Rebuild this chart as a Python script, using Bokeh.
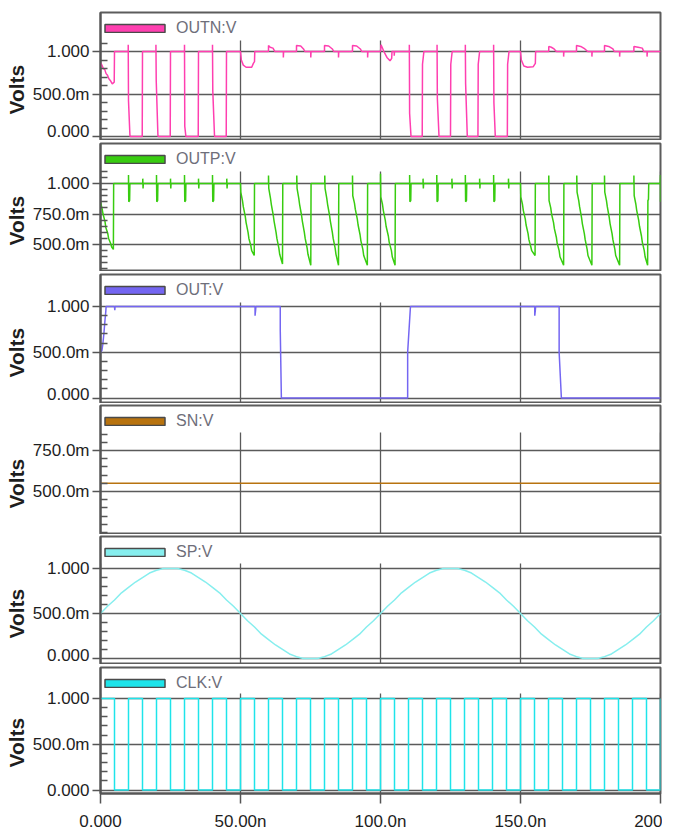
from bokeh.plotting import figure
from bokeh.layouts import column
from bokeh.models import Range1d, FixedTicker, Legend, LegendItem, Title
from bokeh.embed import file_html
from bokeh.resources import INLINE

# ---------------- data ----------------
x_ticks = [0, 50, 100, 150, 200]
x_labels = ["0.000", "50.00n", "100.0n", "150.0n", "200"]

outn_pts = [
    (0.0, 0.87), (0.5, 0.84), (1.0, 0.80), (1.5, 0.79), (2.0, 0.74), (2.5, 0.72), (3.0, 0.68),
    (3.5, 0.66), (4.2, 0.62), (4.9, 0.64), (5.0, 1.00),
    (9.9, 1.00), (9.9, 1.08), (10.0, 0.42), (10.5, 0.02), (10.6, 0.00), (14.9, 0.00), (15.0, 1.00),
    (19.8, 1.00), (19.8, 1.08), (19.9, 0.66), (20.5, 0.02), (20.6, 0.00), (24.9, 0.00), (25.0, 1.00),
    (30.0, 1.00), (30.0, 1.08), (30.1, 0.12), (30.5, 0.00), (34.9, 0.00), (35.0, 1.00),
    (40.0, 1.00), (40.0, 1.08), (40.1, 0.54), (40.7, 0.02), (40.8, 0.00), (44.9, 0.00), (45.0, 1.00),
    (50.0, 1.00), (50.3, 0.90), (51.0, 0.84), (52.0, 0.815), (54.0, 0.815), (54.6, 0.86), (55.0, 0.88), (55.1, 1.00),
    (60.0, 1.00), (60.0, 1.07), (60.6, 1.05), (61.6, 1.04), (62.3, 1.00), (65.3, 1.00), (65.3, 0.93), (65.4, 1.00),
    (70.0, 1.00), (70.0, 1.07), (71.5, 1.065), (72.5, 1.03), (73.0, 1.00), (75.1, 1.00), (75.1, 0.93), (75.2, 1.00),
    (80.0, 1.00), (80.0, 1.07), (81.5, 1.065), (82.8, 1.03), (83.3, 1.00), (85.0, 1.00), (85.0, 0.93), (85.1, 1.00),
    (90.0, 1.00), (90.0, 1.07), (91.5, 1.065), (92.8, 1.03), (93.3, 1.00), (95.4, 1.00), (95.4, 0.93), (95.5, 1.00),
    (100.0, 1.00), (100.2, 1.08), (101.2, 1.00), (102.3, 0.93), (103.4, 0.89), (104.0, 0.92), (104.1, 1.00),
    (104.9, 1.00), (104.9, 0.95), (105.0, 1.00),
    (110.3, 1.00), (110.3, 1.08), (110.4, 0.27), (110.9, 0.00), (114.9, 0.00), (115.0, 0.85), (115.5, 1.00),
    (120.2, 1.00), (120.2, 1.08), (120.3, 0.45), (120.9, 0.00), (125.0, 0.00), (125.1, 0.85), (125.6, 1.00),
    (130.3, 1.00), (130.3, 1.08), (130.4, 0.62), (131.0, 0.00), (134.8, 0.00), (134.9, 0.85), (135.4, 1.00),
    (140.4, 1.00), (140.4, 1.08), (140.5, 0.40), (141.0, 0.00), (145.3, 0.00), (145.4, 0.85), (145.9, 1.00),
    (150.0, 1.00), (150.3, 0.90), (151.2, 0.83), (152.5, 0.815), (154.5, 0.82), (155.3, 0.86), (155.4, 1.00),
    (160.1, 1.00), (160.1, 1.06), (161.0, 1.05), (162.0, 1.03), (162.8, 1.00), (165.4, 1.00), (165.4, 0.94), (165.5, 1.00),
    (170.0, 1.00), (170.0, 1.07), (171.5, 1.06), (173.0, 1.03), (174.0, 1.00), (175.5, 1.00), (175.5, 0.94), (175.6, 1.00),
    (180.0, 1.00), (180.0, 1.07), (181.5, 1.06), (183.0, 1.03), (183.5, 1.00), (185.4, 1.00), (185.4, 0.94), (185.5, 1.00),
    (190.5, 1.00), (190.5, 1.06), (192.0, 1.05), (193.5, 1.04), (194.0, 1.00), (195.2, 1.00), (195.2, 0.94), (195.3, 1.00),
    (200.0, 1.00),
]

outp_pts = [
    (0.0, 0.85), (0.6, 0.79), (0.9, 0.75), (1.6, 0.69), (1.9, 0.64), (2.6, 0.59), (2.9, 0.55),
    (3.6, 0.51), (4.0, 0.48), (4.6, 0.46), (4.7, 1.00),
    (10.0, 1.00), (10.0, 1.07), (10.1, 0.85), (10.4, 0.86), (10.5, 1.00),
    (15.1, 1.00), (15.1, 1.04), (15.2, 0.96), (15.3, 1.00),
    (20.0, 1.00), (20.0, 1.07), (20.1, 0.85), (20.4, 0.86), (20.5, 1.00),
    (25.0, 1.00), (25.0, 1.04), (25.1, 0.96), (25.2, 1.00),
    (30.0, 1.00), (30.0, 1.07), (30.1, 0.85), (30.4, 0.86), (30.5, 1.00),
    (35.0, 1.00), (35.0, 1.04), (35.1, 0.96), (35.2, 1.00),
    (40.0, 1.00), (40.0, 1.07), (40.1, 0.85), (40.4, 0.86), (40.5, 1.00),
    (45.1, 1.00), (45.1, 1.04), (45.2, 0.96), (45.3, 1.00),
    (50.0, 1.00), (50.1, 0.93), (50.7, 0.86), (51.0, 0.81), (51.7, 0.73), (52.0, 0.68), (52.7, 0.60),
    (53.0, 0.55), (53.7, 0.49), (54.0, 0.45), (54.9, 0.41), (55.0, 1.00),
    (60.0, 1.00), (60.0, 1.065), (60.1, 0.96), (60.7, 0.88), (61.0, 0.83), (61.7, 0.74), (62.0, 0.69),
    (62.7, 0.60), (63.0, 0.55), (63.7, 0.47), (64.0, 0.42), (65.0, 0.34), (65.1, 1.00),
    (70.1, 1.00), (70.1, 1.065), (70.2, 0.96), (70.8, 0.88), (71.1, 0.83), (71.8, 0.74), (72.1, 0.69),
    (72.8, 0.60), (73.1, 0.55), (73.8, 0.47), (74.1, 0.42), (75.1, 0.33), (75.2, 1.00),
    (80.1, 1.00), (80.1, 1.065), (80.2, 0.96), (80.8, 0.88), (81.1, 0.83), (81.8, 0.74), (82.1, 0.69),
    (82.8, 0.60), (83.1, 0.55), (83.8, 0.47), (84.1, 0.42), (85.0, 0.33), (85.1, 1.00),
    (90.0, 1.00), (90.0, 1.065), (90.1, 0.90), (90.7, 0.84), (91.0, 0.79), (91.7, 0.71), (92.0, 0.66),
    (92.7, 0.58), (93.0, 0.53), (93.7, 0.46), (94.0, 0.41), (95.3, 0.33), (95.4, 1.00),
    (100.0, 1.00), (100.0, 1.08), (100.1, 0.89), (100.7, 0.83), (101.0, 0.78), (101.7, 0.70), (102.0, 0.65),
    (102.8, 0.57), (103.1, 0.52), (103.9, 0.45), (104.2, 0.40), (105.2, 0.33), (105.3, 1.00),
    (110.4, 1.00), (110.4, 1.07), (110.5, 0.85), (110.8, 0.86), (110.9, 1.00),
    (115.2, 1.00), (115.2, 1.04), (115.3, 0.96), (115.4, 1.00),
    (120.1, 1.00), (120.1, 1.07), (120.2, 0.85), (120.5, 0.86), (120.6, 1.00),
    (125.5, 1.00), (125.5, 1.04), (125.6, 0.96), (125.7, 1.00),
    (130.3, 1.00), (130.3, 1.07), (130.4, 0.85), (130.7, 0.86), (130.8, 1.00),
    (135.4, 1.00), (135.4, 1.04), (135.5, 0.96), (135.6, 1.00),
    (140.4, 1.00), (140.4, 1.07), (140.5, 0.85), (140.8, 0.86), (140.9, 1.00),
    (145.7, 1.00), (145.7, 1.04), (145.8, 0.96), (145.9, 1.00),
    (150.0, 1.00), (150.1, 0.89), (150.7, 0.83), (151.0, 0.78), (151.7, 0.71), (152.0, 0.66), (152.7, 0.59),
    (153.0, 0.54), (153.7, 0.48), (154.0, 0.45), (155.2, 0.41), (155.3, 1.00),
    (160.1, 1.00), (160.1, 1.065), (160.2, 0.86), (160.8, 0.80), (161.1, 0.75), (161.8, 0.68), (162.1, 0.63),
    (162.8, 0.56), (163.1, 0.51), (163.8, 0.45), (164.1, 0.40), (165.4, 0.33), (165.5, 1.00),
    (170.1, 1.00), (170.1, 1.065), (170.2, 0.93), (170.8, 0.86), (171.1, 0.81), (171.8, 0.72), (172.1, 0.67),
    (172.8, 0.59), (173.1, 0.54), (173.8, 0.46), (174.1, 0.41), (175.5, 0.33), (175.6, 1.00),
    (180.0, 1.00), (180.0, 1.065), (180.1, 0.93), (180.7, 0.86), (181.0, 0.81), (181.7, 0.72), (182.0, 0.67),
    (182.7, 0.59), (183.0, 0.54), (183.7, 0.46), (184.0, 0.41), (185.4, 0.33), (185.5, 1.00),
    (190.5, 1.00), (190.5, 1.065), (190.6, 0.90), (191.2, 0.83), (191.5, 0.78), (192.2, 0.70), (192.5, 0.65),
    (193.2, 0.57), (193.5, 0.52), (194.2, 0.45), (194.5, 0.40), (195.4, 0.33), (195.5, 0.86), (195.7, 0.87),
    (195.8, 1.00), (199.9, 1.00), (200.0, 1.07), (200.0, 0.85),
]

out_pts = [
    (0.0, 0.50), (0.5, 0.52), (0.8, 0.58), (1.2, 0.70), (1.6, 0.85), (1.9, 0.95), (2.0, 1.00),
    (5.0, 1.00), (5.1, 0.96), (5.2, 1.00),
    (55.2, 1.00), (55.2, 0.90), (55.4, 0.96), (55.5, 1.00), (64.2, 1.00), (64.2, 0.74), (64.6, 0.00),
    (109.7, 0.00), (109.7, 0.50), (110.7, 1.00),
    (155.1, 1.00), (155.1, 0.90), (155.3, 0.96), (155.4, 1.00), (163.8, 1.00), (163.8, 0.50), (164.6, 0.00),
    (200.0, 0.00),
]

sn_pts = [(0.0, 0.55), (200.0, 0.55)]

sp_t = [0, 2.5, 5, 7.5, 10, 12.5, 15, 17.5, 20, 22.5, 25, 27.5, 30, 32.5, 35, 37.5, 40, 42.5, 45, 47.5,
        50, 52.5, 55, 57.5, 60, 62.5, 65, 67.5, 70, 72.5, 75, 77.5, 80, 82.5, 85, 87.5, 90, 92.5, 95, 97.5,
        100, 102.5, 105, 107.5, 110, 112.5, 115, 117.5, 120, 122.5, 125, 127.5, 130, 132.5, 135, 137.5,
        140, 142.5, 145, 147.5, 150, 152.5, 155, 157.5, 160, 162.5, 165, 167.5, 170, 172.5, 175, 177.5,
        180, 182.5, 185, 187.5, 190, 192.5, 195, 197.5, 200]
sp_v = [0.50, 0.58, 0.65, 0.73, 0.79, 0.85, 0.90, 0.95, 0.98, 1.00, 1.00, 1.00, 0.98, 0.95, 0.90, 0.85,
        0.79, 0.73, 0.65, 0.58, 0.50, 0.42, 0.35, 0.27, 0.21, 0.15, 0.10, 0.05, 0.02, 0.00, 0.00, 0.00,
        0.02, 0.05, 0.10, 0.15, 0.21, 0.27, 0.35, 0.42,
        0.50, 0.58, 0.65, 0.73, 0.79, 0.85, 0.90, 0.95, 0.98, 1.00, 1.00, 1.00, 0.98, 0.95, 0.90, 0.85,
        0.79, 0.73, 0.65, 0.58, 0.50, 0.42, 0.35, 0.27, 0.21, 0.15, 0.10, 0.05, 0.02, 0.00, 0.00, 0.00,
        0.02, 0.05, 0.10, 0.15, 0.21, 0.27, 0.35, 0.42, 0.50]

clk_t = [0, 5, 10, 15, 20, 25, 30, 35, 40, 45, 50, 55, 60, 65, 70, 75, 80, 85, 90, 95, 100,
         105, 110, 115, 120, 125, 130, 135, 140, 145, 150, 155, 160, 165, 170, 175, 180, 185, 190, 195, 200]
clk_v = [1, 0, 1, 0, 1, 0, 1, 0, 1, 0, 1, 0, 1, 0, 1, 0, 1, 0, 1, 0, 1,
         0, 1, 0, 1, 0, 1, 0, 1, 0, 1, 0, 1, 0, 1, 0, 1, 0, 1, 0, 1]

ticks_01 = [0.0, 0.5, 1.0]
labels_01 = ["0.000", "500.0m", "1.000"]
ticks_outp = [0.5, 0.75, 1.0]
labels_outp = ["500.0m", "750.0m", "1.000"]
ticks_sn = [0.5, 0.75]
labels_sn = ["500.0m", "750.0m"]
minor_01 = [0.1, 0.2, 0.3, 0.4, 0.6, 0.7, 0.8, 0.9]
minor_outn = [0.1, 0.2, 0.3, 0.4, 0.6, 0.7, 0.8, 0.9, 1.1]
minor_outp = [0.3, 0.35, 0.4, 0.45, 0.55, 0.6, 0.65, 0.7, 0.8, 0.85, 0.9, 0.95, 1.05, 1.1]
minor_sn = [0.25, 0.3, 0.35, 0.4, 0.45, 0.55, 0.6, 0.65, 0.7, 0.8, 0.85]

# ---------------- layout / style ----------------
GRID = "#5a5a5a"
FONT = "Liberation Sans"

panels = [
    dict(name="OUTN:V", color="#ff3fb0", t=[p[0] for p in outn_pts], v=[p[1] for p in outn_pts],
         ticks=ticks_01, labels=labels_01, minor=minor_outn, lo=-0.047, hi=1.459, top=1.129, fh=128, bt=12),
    dict(name="OUTP:V", color="#38cc10", t=[p[0] for p in outp_pts], v=[p[1] for p in outp_pts],
         ticks=ticks_outp, labels=labels_outp, minor=minor_outp, lo=0.279, hi=1.328, top=1.098, fh=128, bt=3),
    dict(name="OUT:V", color="#7466f2", t=[p[0] for p in out_pts], v=[p[1] for p in out_pts],
         ticks=ticks_01, labels=labels_01, minor=minor_01, lo=-0.060, hi=1.350, top=1.044, fh=129, bt=3),
    dict(name="SN:V", color="#b8730f", t=[p[0] for p in sn_pts], v=[p[1] for p in sn_pts],
         ticks=ticks_sn, labels=labels_sn, minor=minor_sn, lo=0.238, hi=1.024, top=0.86, fh=129, bt=2),
    dict(name="SP:V", color="#86eeee", t=sp_t, v=sp_v,
         ticks=ticks_01, labels=labels_01, minor=minor_01, lo=-0.067, hi=1.356, top=1.056, fh=128, bt=2),
    dict(name="CLK:V", color="#1ee4ea", t=clk_t, v=clk_v, step=True,
         ticks=ticks_01, labels=labels_01, minor=minor_01, lo=-0.038, hi=1.339, top=1.055, fh=126, bt=3),
]

figs = []
for i, cfg in enumerate(panels):
    last = i == len(panels) - 1
    p = figure(frame_width=560, frame_height=cfg["fh"], output_backend="svg", toolbar_location=None,
               x_range=Range1d(0, 200), y_range=Range1d(cfg["lo"], cfg["hi"]),
               x_axis_location="below" if last else None,
               min_border_left=94, min_border_right=2, min_border_top=cfg["bt"],
               min_border_bottom=38 if last else 0)
    p.background_fill_color = "white"
    p.border_fill_color = "white"
    p.outline_line_color = "#5c5c5c"
    p.outline_line_width = 2

    # grid
    p.xgrid.visible = False
    yt = FixedTicker(ticks=cfg["ticks"], minor_ticks=cfg["minor"])
    p.yaxis.ticker = yt
    p.ygrid.ticker = yt
    p.ygrid.grid_line_color = GRID
    p.ygrid.grid_line_width = 1.3
    p.segment(x0=x_ticks, x1=x_ticks, y0=[cfg["lo"]] * len(x_ticks), y1=[cfg["top"]] * len(x_ticks),
              line_color=GRID, line_width=1.3)

    # y axis
    ya = p.yaxis[0]
    ya.major_label_overrides = dict(zip(cfg["ticks"], cfg["labels"]))
    ya.major_label_text_font = FONT
    ya.major_label_text_font_size = "17px"
    ya.major_label_text_color = "#1e1e1e"
    ya.major_label_standoff = 3
    ya.axis_line_color = "#555555"
    ya.axis_line_width = 2
    ya.major_tick_out = 8
    ya.major_tick_in = 0
    ya.major_tick_line_color = "#555555"
    ya.major_tick_line_width = 1.5
    ya.minor_tick_in = 7
    ya.minor_tick_out = 0
    ya.minor_tick_line_color = "#555555"
    ya.minor_tick_line_width = 1.5

    p.add_layout(Title(text="Volts", align="left", offset=26, standoff=4, text_font=FONT,
                       text_font_size="21px", text_font_style="bold", text_color="#1e1e1e"), "left")

    if last:
        xa = p.xaxis[0]
        xa.ticker = FixedTicker(ticks=x_ticks, minor_ticks=[])
        xa.major_label_overrides = dict(zip(x_ticks, x_labels))
        xa.major_label_text_font = FONT
        xa.major_label_text_font_size = "17px"
        xa.major_label_text_color = "#1e1e1e"
        xa.major_label_standoff = 8
        xa.axis_line_color = "#555555"
        xa.axis_line_width = 2
        xa.major_tick_out = 10
        xa.major_tick_in = 0
        xa.major_tick_line_color = "#555555"
        xa.major_tick_line_width = 1.5
        xa.minor_tick_line_color = None

    # data
    if cfg.get("step"):
        p.step(cfg["t"], cfg["v"], mode="after", line_color=cfg["color"], line_width=1.5)
    else:
        p.line(cfg["t"], cfg["v"], line_color=cfg["color"], line_width=1.5)

    # legend swatch (hidden renderer, only its legend glyph is shown)
    sw = p.quad(left=cfg["t"][:1], right=cfg["t"][:1], bottom=cfg["v"][:1], top=cfg["v"][:1],
                fill_color=cfg["color"], line_color="#4a4a4a", line_width=1.5, visible=False)
    leg = Legend(items=[LegendItem(label=cfg["name"], renderers=[sw])],
                 location=(-3, cfg["fh"] - 26), margin=0, padding=0,
                 glyph_width=75, glyph_height=10, label_standoff=4, label_height=20,
                 label_text_font=FONT, label_text_font_size="16px", label_text_color="#6e6e7a",
                 background_fill_alpha=0, border_line_alpha=0)
    p.add_layout(leg)
    figs.append(p)

layout = column(*figs, spacing=0)
open("out.html", "w").write(file_html(layout, INLINE))
